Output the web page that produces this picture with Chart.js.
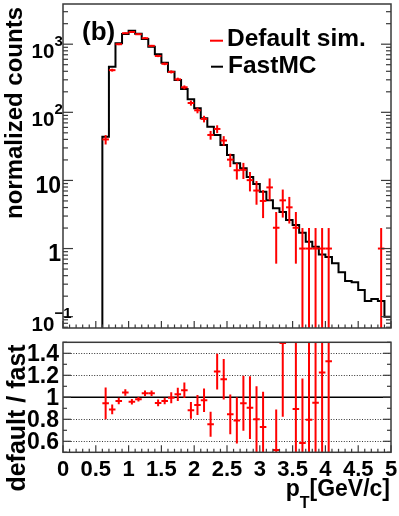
<!DOCTYPE html>
<html><head><meta charset="utf-8">
<script src="https://cdn.jsdelivr.net/npm/chart.js@4.4.1/dist/chart.umd.min.js"></script>
<style>
html,body{margin:0;padding:0;background:#fff;}
#wrap{position:relative;width:399px;height:516px;overflow:hidden;background:#fff;}
canvas{position:absolute;left:0;top:0;}
</style></head><body>
<div id="wrap"><canvas id="topPad" width="399" height="516"></canvas><canvas id="ratioPad" width="399" height="516"></canvas></div>
<script>
// ---------------- data ----------------
const binWidth = 0.1;
// FastMC histogram: low edges of the filled bins (GeV/c) and normalized counts
const ptLowEdges = [0.6,0.7,0.8,0.9,1.0,1.1,1.2,1.3,1.4,1.5,1.6,1.7,1.8,1.9,2.0,2.1,2.2,2.3,2.4,2.5,
  2.6,2.7,2.8,2.9,3.0,3.1,3.2,3.3,3.4,3.5,3.6,3.7,3.8,3.9,4.0,4.1,4.2,4.3,4.4,4.5,4.6,4.7,4.8,4.9];
const fastMC = [43.8,468,1030,1412,1578,1425,1192,919,711,535,394,298,220,155,115,82,61.5,46.5,33,23.6,
  17.8,15.1,11.2,8.9,6.83,5.1,3.89,3.45,2.62,2.21,1.71,1.26,1.06,0.82,0.75,0.61,0.448,0.333,0.319,0.246,0.17,0.181,0.17,0.10];
// Default simulation: bin centres, values and errors
const defaultCenters = [0.65,0.75,0.85,0.95,1.05,1.15,1.25,1.35,1.45,1.55,1.65,1.75,1.85,1.95,2.05,2.15,2.25,2.35,2.45,2.55,
  2.65,2.75,2.85,2.95,3.05,3.15,3.25,3.35,3.45,3.55,3.65,3.75,3.85,3.95,4.05,4.85];
const defaultSim = [40,416,1000,1450,1510,1400,1225,945,672,515,392,305,233,137,107,80,46.5,57,38.5,20.2,
  14.1,14.3,10.1,7.1,5.0,7.9,2.02,5.1,4.03,2.02,1,1,1,1,1,1];
const defaultErr = [6.3,20,32,38,39,37,35,31,26,23,20,17.5,15.3,11.7,10.3,8.9,6.8,7.5,6.2,4.5,
  3.8,3.8,3.2,2.7,2.2,2.8,1.42,2.25,1.7,1.42,1,1,1,1,1,1];
// ratio default / fast
const ratioCenters = defaultCenters;
const ratioValues = [0.945,0.89,0.967,1.043,0.96,0.982,1.036,1.036,0.949,0.967,0.997,1.027,1.064,0.882,0.93,0.973,0.755,1.234,1.164,0.845,
  0.79,0.945,0.906,0.80,0.73,1.53,0.52,1.494,1.54,0.894,0.585,0.795,0.95,1.225,1.327,5.9];
const ratioErrors = [0.145,0.045,0.03,0.03,0.025,0.02,0.025,0.025,0.03,0.03,0.05,0.06,0.07,0.076,0.09,0.106,0.114,0.162,0.185,0.18,
  0.21,0.25,0.285,0.30,0.32,0.6,0.37,0.67,0.8,0.65,0.585,0.795,0.95,1.225,1.327,5.9];
// axes
const xRange = [0, 5];
const countsRange = [0.0682, 3890];
const ratioRange = [0.5, 1.5];
const xTickValues = [0,0.5,1,1.5,2,2.5,3,3.5,4,4.5,5];
const xTickLabels = ['0','0.5','1','1.5','2','2.5','3','3.5','4','4.5','5'];
const logTickValues = [0.1,1,10,100,1000];
const logTickLabels = ['10^\u22121','1','10','10^2','10^3'];
const ratioTickValues = [0.6,0.8,1,1.2,1.4];
const ratioTickLabels = ['0.6','0.8','1','1.2','1.4'];
const seriesNames = ['Default sim.','FastMC'];

// ---------------- helpers ----------------
const RED = '#ff0000';
const FONT = '"Liberation Sans", Arial, Helvetica, sans-serif';
const AXIS_COL = '#3a3a3a';
function font(sz){ return 'bold ' + sz + 'px ' + FONT; }
function seg(ctx, x0, y0, x1, y1){ ctx.beginPath(); ctx.moveTo(x0,y0); ctx.lineTo(x1,y1); ctx.stroke(); }
function text(ctx, s, x, y, sz, align, rot){
  ctx.save(); ctx.translate(x,y); if (rot) ctx.rotate(rot);
  ctx.font = font(sz); ctx.textAlign = align || 'left'; ctx.textBaseline = 'alphabetic';
  ctx.fillStyle = '#000'; ctx.fillText(s, 0, 0); ctx.restore();
}
function clipArea(ctx, a){ ctx.beginPath(); ctx.rect(a.left, a.top, a.right-a.left, a.bottom-a.top); ctx.clip(); }
function drawFrame(ctx, a){
  ctx.save(); ctx.strokeStyle = AXIS_COL; ctx.lineWidth = 1.5;
  ctx.strokeRect(a.left, a.top, a.right-a.left, a.bottom-a.top); ctx.restore();
}
function drawXTicks(ctx, a, xs){
  ctx.save(); ctx.strokeStyle = AXIS_COL; ctx.lineWidth = 1.2;
  for (let k = 0; k <= 50; k++){
    const px = xs.getPixelForValue(k/10);
    const len = (k % 5 === 0) ? 7 : 3.5;
    seg(ctx, px, a.bottom, px, a.bottom - len);
  }
  ctx.restore();
}
function drawErrBars(ctx, chart, dsIndex, centers, vals, errs, lowFloor, hideOutside){
  const a = chart.chartArea, xs = chart.scales.x, ys = chart.scales.y;
  const meta = chart.getDatasetMeta(dsIndex);
  ctx.save(); clipArea(ctx, a);
  ctx.strokeStyle = RED; ctx.lineWidth = 2;
  centers.forEach((c, i) => {
    const v = vals[i], e = errs[i];
    if (hideOutside && (v < ys.min || v > ys.max)) return;
    const pt = meta.data[i];
    const px = pt.x, py = pt.y;
    const hi = ys.getPixelForValue(v + e);
    const lo = (v - e > lowFloor) ? ys.getPixelForValue(v - e) : a.bottom + 5;
    seg(ctx, px, hi, px, lo);
    const x0 = xs.getPixelForValue(c - binWidth/2), x1 = xs.getPixelForValue(c + binWidth/2);
    seg(ctx, x0, py, x1, py);
  });
  ctx.restore();
}

// ---------------- top pad ----------------
const histPoints = [{x: ptLowEdges[0], y: countsRange[0]}];
ptLowEdges.forEach((e, i) => histPoints.push({x: e, y: fastMC[i]}));
histPoints.push({x: xRange[1], y: fastMC[fastMC.length-1]});
const defaultPoints = defaultCenters.map((c, i) => ({x: c, y: defaultSim[i]}));

const topDecor = {
  id: 'topDecor',
  afterDraw(chart){
    const ctx = chart.ctx, a = chart.chartArea, xs = chart.scales.x, ys = chart.scales.y;
    drawErrBars(ctx, chart, 1, defaultCenters, defaultSim, defaultErr, 0, false);
    drawFrame(ctx, a);
    drawXTicks(ctx, a, xs);
    // log ticks left & right
    ctx.save(); ctx.strokeStyle = AXIS_COL; ctx.lineWidth = 1.2;
    for (let d = -2; d <= 3; d++){
      for (let m = 1; m <= 9; m++){
        const v = m * Math.pow(10, d);
        if (v < ys.min || v > ys.max) continue;
        const py = ys.getPixelForValue(v);
        const len = m === 1 ? 10 : 5;
        seg(ctx, a.left, py, a.left + len, py);
        seg(ctx, a.right, py, a.right - len, py);
      }
    }
    ctx.restore();
    // y labels
    logTickValues.forEach((v, i) => {
      const ty = ys.getPixelForValue(v);
      const lab = logTickLabels[i];
      if (lab.indexOf('^') >= 0){
        const [base, ex] = lab.split('^');
        ctx.save(); ctx.font = font(20.5); const w = ctx.measureText(base).width; ctx.restore();
        text(ctx, base, 31.5, ty + 14, 20.5, 'left');
        text(ctx, ex, 31.5 + w + 0.3, ty + 1.5, 15, 'left');
      } else {
        text(ctx, lab, 61, ty + 12.5, 23, 'right');
      }
    });
    // legend
    ctx.save(); ctx.lineWidth = 2;
    ctx.strokeStyle = RED; seg(ctx, 210, 40.7, 223, 40.7);
    ctx.strokeStyle = '#000'; seg(ctx, 211, 66.7, 223, 66.7);
    ctx.restore();
    text(ctx, seriesNames[0], 227, 45.7, 24.5, 'left');
    text(ctx, seriesNames[1], 228, 73.3, 24.5, 'left');
    text(ctx, '(b)', 82, 39.5, 26, 'left');
    text(ctx, 'normalized counts', 22, 113, 24, 'center', -Math.PI/2);
  }
};

new Chart(document.getElementById('topPad'), {
  type: 'line',
  data: { datasets: [
    { label: seriesNames[1], data: histPoints, borderColor: '#000', borderWidth: 2, pointRadius: 0,
      stepped: 'before', fill: false, tension: 0 },
    { label: seriesNames[0], data: defaultPoints, showLine: false, pointRadius: 0, borderColor: RED, backgroundColor: RED }
  ]},
  options: {
    responsive: false, animation: false, events: [],
    layout: { padding: { left: 63, right: 8, top: 4, bottom: 188 } },
    scales: {
      x: { type: 'linear', min: xRange[0], max: xRange[1], display: false },
      y: { type: 'logarithmic', min: countsRange[0], max: countsRange[1], display: false }
    },
    plugins: { legend: { display: false }, tooltip: { enabled: false } }
  },
  plugins: [topDecor]
});

// ---------------- ratio pad ----------------
const ratioPoints = ratioCenters.map((c, i) => ({x: c, y: ratioValues[i]}));
const ratioDecor = {
  id: 'ratioDecor',
  beforeDatasetsDraw(chart){
    const ctx = chart.ctx, a = chart.chartArea, ys = chart.scales.y;
    ctx.save();
    ctx.strokeStyle = '#333'; ctx.lineWidth = 1; ctx.setLineDash([1, 1.6]);
    ratioTickValues.forEach(v => { if (v === 1) return; const py = Math.round(ys.getPixelForValue(v)) + 0.5; seg(ctx, a.left, py, a.right, py); });
    ctx.setLineDash([]); ctx.strokeStyle = '#000'; ctx.lineWidth = 1.6;
    const p1 = ys.getPixelForValue(1); seg(ctx, a.left, p1, a.right, p1);
    ctx.restore();
  },
  afterDraw(chart){
    const ctx = chart.ctx, a = chart.chartArea, xs = chart.scales.x, ys = chart.scales.y;
    drawErrBars(ctx, chart, 0, ratioCenters, ratioValues, ratioErrors, -1, true);
    drawFrame(ctx, a);
    drawXTicks(ctx, a, xs);
    ctx.save(); ctx.strokeStyle = AXIS_COL; ctx.lineWidth = 1.2;
    for (let k = 5; k <= 15; k++){
      const py = ys.getPixelForValue(k/10);
      const len = (k % 2 === 0) ? 8 : 4;
      seg(ctx, a.left, py, a.left + len, py);
      seg(ctx, a.right, py, a.right - len, py);
    }
    ctx.restore();
    ratioTickValues.forEach((v, i) => text(ctx, ratioTickLabels[i], 59, ys.getPixelForValue(v) + 8, 23, 'right'));
    xTickValues.forEach((v, i) => text(ctx, xTickLabels[i], xs.getPixelForValue(v), 475.5, 22, 'center'));
    text(ctx, 'default / fast', 25, 418, 25, 'center', -Math.PI/2);
    // x title p_T[GeV/c]
    ctx.save(); ctx.font = font(23); const wUnit = ctx.measureText('[GeV/c]').width;
    ctx.font = font(16); const wT = ctx.measureText('T').width; ctx.restore();
    const xr = 390;
    text(ctx, '[GeV/c]', xr, 495.5, 23, 'right');
    text(ctx, 'T', xr - wUnit, 508, 16, 'right');
    text(ctx, 'p', xr - wUnit - wT, 495.5, 23, 'right');
  }
};

new Chart(document.getElementById('ratioPad'), {
  type: 'scatter',
  data: { datasets: [
    { label: 'default / fast', data: ratioPoints, showLine: false, pointRadius: 0, borderColor: RED, backgroundColor: RED }
  ]},
  options: {
    responsive: false, animation: false, events: [],
    layout: { padding: { left: 63, right: 8, top: 342.3, bottom: 63.7 } },
    scales: {
      x: { type: 'linear', min: xRange[0], max: xRange[1], display: false },
      y: { type: 'linear', min: ratioRange[0], max: ratioRange[1], display: false }
    },
    plugins: { legend: { display: false }, tooltip: { enabled: false } }
  },
  plugins: [ratioDecor]
});
</script>
</body></html>
